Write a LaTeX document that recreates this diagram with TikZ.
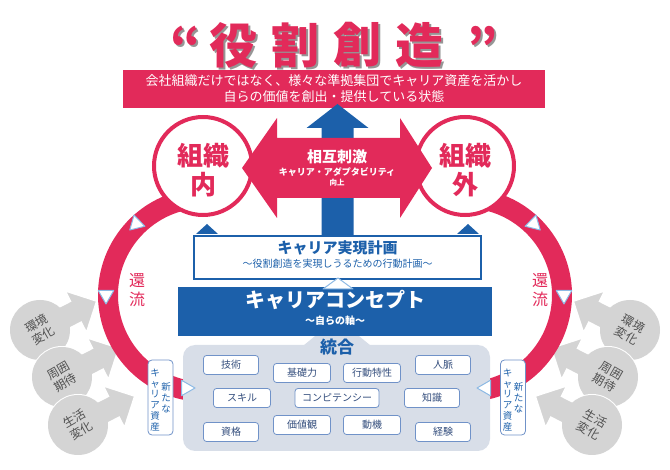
\documentclass[tikz,border=0pt]{standalone}
\usepackage{fontspec}
\setmainfont{Noto Sans CJK JP}
\usetikzlibrary{calc}

\definecolor{rolered}{RGB}{226,42,90}
\definecolor{conceptblue}{RGB}{28,96,170}
\definecolor{flowblue}{RGB}{140,185,228}
\definecolor{panelgray}{RGB}{216,222,232}
\definecolor{itemblue}{RGB}{112,146,200}
\definecolor{itemink}{RGB}{52,78,125}
\definecolor{envgray}{RGB}{212,212,212}
\definecolor{envink}{RGB}{80,80,80}
\definecolor{shadowgray}{RGB}{150,150,150}

\newcommand{\fsz}[1]{\fontsize{#1}{#1}\selectfont}

\begin{document}
\begin{tikzpicture}[x=1pt, y=-1pt,
    titlechar/.style={inner sep=0pt, font=\fsz{48}\bfseries},
    banner/.style={fill=rolered, minimum width=422pt, minimum height=38pt, inner sep=0pt, text=white, align=center, font=\fontsize{13}{16}\selectfont},
    orgcircle/.style={circle, draw=rolered, line width=4pt, fill=white, minimum size=98pt, inner sep=0pt},
    orgtext/.style={text=rolered, align=center, font=\fontsize{26}{29}\selectfont\bfseries},
    ringband/.style={draw=rolered, line width=20pt},
    flowtri/.style={draw=flowblue, fill=white, line width=1pt, line join=round},
    planbox/.style={draw=conceptblue, line width=2pt, fill=white, minimum width=287pt, minimum height=43pt, inner sep=0pt},
    conceptbox/.style={fill=conceptblue, minimum width=314pt, minimum height=49pt, inner sep=0pt},
    panel/.style={fill=panelgray, rounded corners=12pt, minimum width=307pt, minimum height=106pt, inner sep=0pt},
    item/.style={draw=itemblue, fill=white, line width=0.8pt, rounded corners=3pt, minimum height=19pt, inner sep=0pt, text=itemink, font=\fsz{10}},
    assetbox/.style={draw=itemblue, fill=white, line width=0.8pt, rounded corners=4pt, minimum width=25pt, minimum height=75pt, inner sep=0pt},
    assettext/.style={text=conceptblue, align=center, inner sep=0pt, font=\fontsize{9.5}{10.8}\selectfont},
    envshape/.style={fill=envgray, draw=white, line width=2pt},
    envtext/.style={text=envink, align=center, font=\fontsize{12}{14}\selectfont},
    returnlbl/.style={text=rolered, align=center, font=\fontsize{16}{19}\selectfont}
]
\useasboundingbox (0,0) rectangle (670,470);

% outside pressures
\foreach \cx/\cy/\arot/\trot/\lbl [count=\i] in {40/330/27/30/{環境\\変化}, 62/377/27/30/{周囲\\期待}, 78/425/27/30/{生活\\変化},
    630/330/153/-30/{環境\\変化}, 608/377/153/-30/{周囲\\期待}, 592/425/153/-30/{生活\\変化}} {
  \draw[envshape] (\cx,\cy) circle[radius=30];
  \draw[envshape, shift={(\cx,\cy)}, rotate=\arot] (10,-12) -- (40,-12) -- (40,-24) -- (64,0) -- (40,24) -- (40,12) -- (10,12) -- cycle;
  \fill[envgray] (\cx,\cy) circle[radius=30];
  \node[envtext, rotate=\trot] (env\i) at (\cx,\cy) {\lbl};
}

% return loops
\coordinate (loopL) at (205,295);
\coordinate (loopR) at (465,295);
\draw[ringband] ($(loopL)+(260:97)$) arc[start angle=260, end angle=98, radius=97];
\draw[ringband] ($(loopR)+(-80:97)$) arc[start angle=-80, end angle=82, radius=97];

\node[orgcircle] (inner) at (203,166) {};
\node[orgcircle] (outer) at (465,166) {};
\node[orgtext] (innerlbl) at ($(inner)+(0,4)$) {組織\\内};
\node[orgtext] (outerlbl) at ($(outer)+(0,4)$) {組織\\外};

% title
\foreach \ch [count=\i] in {役,割,創,造} {
  \node[titlechar, text=shadowgray] at ({173+62*\i},47) {\ch};
  \node[titlechar, text=rolered] (title\i) at ({171+62*\i},45) {\ch};
}
\node[titlechar, text=shadowgray] at (188,47) {“};
\node[titlechar, text=rolered] (lquote) at (186,45) {“};
\node[titlechar, text=shadowgray] at (485,47) {”};
\node[titlechar, text=rolered] (rquote) at (483,45) {”};

\node[banner] (banner) at (334,89) {会社組織だけではなく、様々な準拠集団でキャリア資産を活かし\\自らの価値を創出・提供している状態};

% plan
\node[planbox] (plan) at (337.5,257.5) {};
\node[text=conceptblue, font=\fsz{15}\bfseries] (plantitle) at ($(plan)+(0,-9.5)$) {キャリア実現計画};
\node[text=conceptblue, font=\fsz{10}] (plansub) at ($(plan)+(0,6.5)$) {～役割創造を実現しうるための行動計画～};
\fill[conceptblue] (196,234) -- (207,224) -- (218,234) -- cycle;
\fill[conceptblue] (457,234) -- (468,224) -- (479,234) -- cycle;

% upward arrow
\path (plan.north) ++(0,-131) coordinate (uptip);
\fill[conceptblue] ($(plan.north)+(-16,0)$) -- ($(uptip)+(-16,24)$) -- ($(uptip)+(-31,24)$) -- (uptip)
  -- ($(uptip)+(31,24)$) -- ($(uptip)+(16,24)$) -- ($(plan.north)+(16,0)$) -- cycle;

% mutual stimulation
\coordinate (mutual) at (337,168);
\fill[rolered, shift={(mutual)}] (-95,0) -- (-60,-50) -- (-60,-30) -- (63,-30) -- (63,-50) -- (95,0)
  -- (63,50) -- (63,30) -- (-60,30) -- (-60,50) -- cycle;
\node[text=white, font=\fsz{15}\bfseries] (mutualtitle) at ($(mutual)+(0,-11)$) {相互刺激};
\node[text=white, font=\fsz{9}\bfseries] (mutualsub) at ($(mutual)+(0,4)$) {キャリア・アダプタビリティ};
\node[text=white, font=\fsz{7.5}\bfseries] (mutualup) at ($(mutual)+(0,14.5)$) {向上};

% concept
\fill[panelgray] (298,350) -- (337,318) -- (376,350) -- cycle;
\node[conceptbox] (concept) at (335,311.5) {};
\node[text=white, font=\fsz{20}\bfseries] (concepttitle) at ($(concept)+(0,-11.5)$) {キャリアコンセプト};
\node[text=white, font=\fsz{10}\bfseries] (conceptsub) at ($(concept)+(0,9.5)$) {～自らの軸～};
\draw[flowtri] (323,289) -- (338,278) -- (353,289) -- cycle;

% integration
\node[panel] (panel) at (336.5,398) {};
\node[text=conceptblue, font=\fsz{17}\bfseries] (integrate) at (337,347) {統合};
\node[item, minimum width=55pt] (tech) at (231,365) {技術};
\node[item, minimum width=57pt] (basic) at (302,373) {基礎力};
\node[item, minimum width=57pt] (behave) at (372,373) {行動特性};
\node[item, minimum width=55pt] (network) at (443,365) {人脈};
\node[item, minimum width=57pt] (skill) at (242,398) {スキル};
\node[item, minimum width=84pt] (compet) at (337,398) {コンピテンシー};
\node[item, minimum width=55pt] (knowl) at (432,398) {知識};
\node[item, minimum width=55pt] (license) at (231,432) {資格};
\node[item, minimum width=57pt] (values) at (302,425) {価値観};
\node[item, minimum width=57pt] (motive) at (372,425) {動機};
\node[item, minimum width=55pt] (exper) at (443,432) {経験};

% new career assets
\node[assetbox] (assetL) at (160.5,397.5) {};
\node[assettext] (assetLa) at ($(assetL)+(-5.5,2.5)$) {キ\\ャ\\リ\\ア\\資\\産};
\node[assettext] (assetLb) at ($(assetL)+(5.5,0)$) {新\\た\\な};
\node[assetbox] (assetR) at (513,397.5) {};
\node[assettext] (assetRa) at ($(assetR)+(-5.5,2.5)$) {キ\\ャ\\リ\\ア\\資\\産};
\node[assettext] (assetRb) at ($(assetR)+(5.5,0)$) {新\\た\\な};

% flow marks
\path (loopL) +(226:99) coordinate (fl1) +(180:99) coordinate (fl2);
\path (loopR) +(-46:99) coordinate (fr1) +(0:99) coordinate (fr2);
\coordinate (fl3) at (186,388);
\coordinate (fr3) at (486,388);
\foreach \c/\a in {fl1/136, fl2/90, fl3/0, fr1/44, fr2/90, fr3/180}
  \draw[flowtri, shift={(\c)}] (\a:9) -- ({\a+120}:9) -- ({\a+240}:9) -- cycle;

\node[returnlbl] (returnL) at (137,290) {還\\流};
\node[returnlbl] (returnR) at (540,290) {還\\流};
\end{tikzpicture}
\end{document}
